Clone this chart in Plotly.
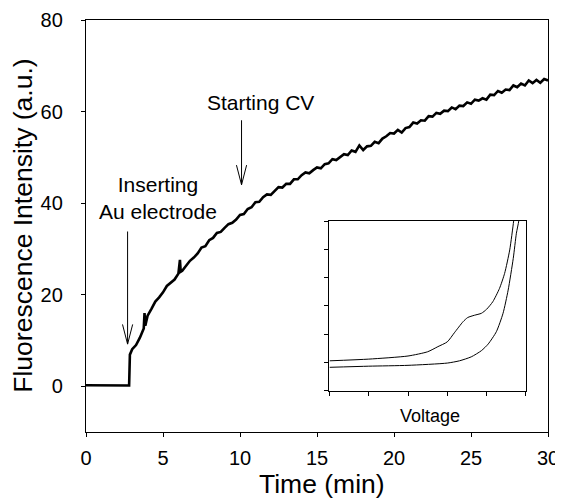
import plotly.graph_objects as go

# ---- main fluorescence trace (time in min, intensity a.u.) ----
time_min = [0, 0.5, 1.0, 1.5, 2.0, 2.5, 2.8, 2.85, 3.0, 3.25, 3.5, 3.75, 3.8, 3.85,
            4.0, 4.25, 4.5, 4.75, 5.0, 5.25, 5.5, 5.75, 6.0, 6.1, 6.15, 6.25, 6.5,
            6.75, 7.0, 7.25, 7.5, 7.75, 8.0, 8.25, 8.5, 8.75, 9.0, 9.25, 9.5, 9.75,
            10.0, 10.25, 10.5, 10.75, 11.0, 11.25, 11.5, 11.75, 12.0, 12.25, 12.5,
            12.75, 13.0, 13.25, 13.5, 13.75, 14.0, 14.25, 14.5, 14.75, 15.0, 15.25,
            15.5, 15.75, 16.0, 16.25, 16.5, 16.75, 17.0, 17.25, 17.5, 17.75, 18.0,
            18.25, 18.5, 18.75, 19.0, 19.25, 19.5, 19.75, 20.0, 20.25, 20.5, 20.75,
            21.0, 21.25, 21.5, 21.75, 22.0, 22.25, 22.5, 22.75, 23.0, 23.25, 23.5,
            23.75, 24.0, 24.25, 24.5, 24.75, 25.0, 25.25, 25.5, 25.75, 26.0, 26.25,
            26.5, 26.75, 27.0, 27.25, 27.5, 27.75, 28.0, 28.25, 28.5, 28.75, 29.0,
            29.25, 29.5, 29.75, 30.0]
intensity = [0.2, 0.2, 0.25, 0.2, 0.25, 0.2, 0.15, 6.9, 8.1, 9.0, 10.6, 12.6, 16.0, 13.2,
             15.4, 16.9, 18.5, 19.4, 20.5, 21.9, 22.6, 23.3, 24.6, 27.6, 25.0, 25.2, 26.3,
             27.4, 28.1, 29.0, 30.3, 30.6, 31.9, 32.4, 33.5, 33.7, 34.6, 35.4, 35.7, 36.4,
             37.4, 37.6, 38.7, 39.1, 40.2, 40.3, 41.3, 41.9, 41.8, 42.6, 43.5,
             43.4, 44.2, 44.2, 45.2, 45.2, 46.1, 46.7, 46.5, 47.2, 47.8, 47.6,
             48.5, 48.7, 49.6, 49.4, 50.1, 50.7, 50.5, 51.5, 51.2, 52.6, 51.6,
             52.4, 52.5, 53.4, 53.1, 54.1, 54.6, 55.3, 55.2, 56.0, 55.4, 56.4,
             56.6, 57.6, 57.4, 58.1, 58.0, 59.0, 58.9, 59.7, 59.5, 60.2, 60.1,
             60.9, 60.5, 61.3, 61.2, 62.0, 61.7, 62.6, 62.4, 62.9, 62.6, 63.7,
             63.6, 64.5, 64.1, 64.8, 64.7, 65.7, 65.3, 66.1, 65.7, 66.8, 66.2,
             66.9, 66.3, 67.1, 66.8]

# ---- inset cyclic voltammogram (arbitrary units) ----
cv_upper_v = [0.0, 1.0, 2.0, 2.5, 2.76, 3.0, 3.18, 3.40, 3.52, 3.69, 3.87, 4.0,
              4.16, 4.33, 4.46, 4.59, 4.69, 4.74]
cv_upper_i = [1.06, 1.12, 1.23, 1.38, 1.56, 1.73, 2.05, 2.44, 2.59, 2.67, 2.74, 2.88,
              3.15, 3.62, 4.15, 4.98, 6.0, 6.6]
cv_lower_v = [0.0, 1.0, 2.0, 3.0, 3.31, 3.61, 3.87, 4.04, 4.25, 4.42, 4.55, 4.68,
              4.76, 4.82, 4.86]
cv_lower_i = [0.83, 0.87, 0.90, 0.98, 1.06, 1.20, 1.42, 1.65, 2.09, 2.74, 3.56, 4.68,
              5.57, 6.0, 6.6]

# ---- arrows and labels ----
arrow_x = [2.7, 10.1]
arrow_top = [33.8, 58.1]
arrow_tip = [9.2, 44.0]
label_text = ["Inserting<br>Au electrode", "Starting CV"]
label_x = [4.7, 11.3]
label_y = [41.2, 61.9]

x_ticks = [0, 5, 10, 15, 20, 25, 30]
y_ticks = [0, 20, 40, 60, 80]

FONT = "Liberation Sans, Arial, sans-serif"

fig = go.Figure()
fig.add_trace(go.Scatter(x=time_min, y=intensity, mode="lines",
                         line=dict(color="black", width=2.6), showlegend=False,
                         xaxis="x", yaxis="y"))
fig.add_trace(go.Scatter(x=cv_upper_v, y=cv_upper_i, mode="lines",
                         line=dict(color="black", width=1, shape="spline", smoothing=0.6),
                         showlegend=False, xaxis="x2", yaxis="y2"))
fig.add_trace(go.Scatter(x=cv_lower_v, y=cv_lower_i, mode="lines",
                         line=dict(color="black", width=1, shape="spline", smoothing=0.6),
                         showlegend=False, xaxis="x2", yaxis="y2"))

head_h = 4.3
head_w = 0.33
shapes = []
for ax, top, tip in zip(arrow_x, arrow_top, arrow_tip):
    shapes.append(dict(type="line", xref="x", yref="y", x0=ax, x1=ax, y0=top, y1=tip,
                       line=dict(color="black", width=1)))
    shapes.append(dict(type="path", xref="x", yref="y",
                       path=f"M {ax-head_w},{tip+head_h} L {ax},{tip} L {ax+head_w},{tip+head_h}",
                       line=dict(color="black", width=1)))

annotations = []
for t, lx, ly in zip(label_text, label_x, label_y):
    annotations.append(dict(text=t, x=lx, y=ly, xref="x", yref="y", showarrow=False,
                            font=dict(size=21, color="black", family=FONT), align="center"))
annotations.append(dict(text="Voltage", x=0.745, y=0.04, xref="paper", yref="paper",
                        xanchor="center", yanchor="middle",
                        showarrow=False, font=dict(size=18, color="black", family=FONT)))
annotations.append(dict(text="Time (min)", x=0.51, y=-0.126, xref="paper", yref="paper",
                        xanchor="center", yanchor="middle", showarrow=False,
                        font=dict(size=26.5, color="black", family=FONT)))
annotations.append(dict(text="Fluorescence Intensity (a.u.)", x=-0.137, y=0.5,
                        xref="paper", yref="paper", xanchor="center", yanchor="middle",
                        textangle=-90, showarrow=False,
                        font=dict(size=26.5, color="black", family=FONT)))

axis_common = dict(showgrid=False, zeroline=False, showline=True, linecolor="black",
                   linewidth=1.3, mirror=True, ticks="outside", ticklen=4, tickwidth=1.3,
                   tickcolor="black", automargin=False)

# the page body adds an 8 px offset, so the figure is 8 px smaller and shifted
fig.update_layout(
    width=555, height=490,
    margin=dict(l=78, r=15, t=12, b=66),
    paper_bgcolor="white", plot_bgcolor="white",
    font=dict(family=FONT, color="black", size=20),
    xaxis=dict(range=[0, 30], tickvals=x_ticks, ticklabelstandoff=4,
               tickfont=dict(size=20), **axis_common),
    yaxis=dict(range=[-10, 80], tickvals=y_ticks, ticklabelstandoff=14,
               tickfont=dict(size=20), **axis_common),
    xaxis2=dict(domain=[0.527, 0.952], anchor="y2", range=[0, 5], dtick=1,
                showticklabels=False, showgrid=False, zeroline=False, showline=True,
                linecolor="black", linewidth=1, mirror=True, ticks="outside", ticklen=4,
                tickcolor="black", tickwidth=1, automargin=False),
    yaxis2=dict(domain=[0.10, 0.512], anchor="x2", range=[0, 6], dtick=1,
                showticklabels=False, showgrid=False, zeroline=False, showline=True,
                linecolor="black", linewidth=1, mirror=True, ticks="outside", ticklen=4,
                tickcolor="black", tickwidth=1, automargin=False),
    shapes=shapes,
    annotations=annotations,
)

fig.write_html("out.html")
